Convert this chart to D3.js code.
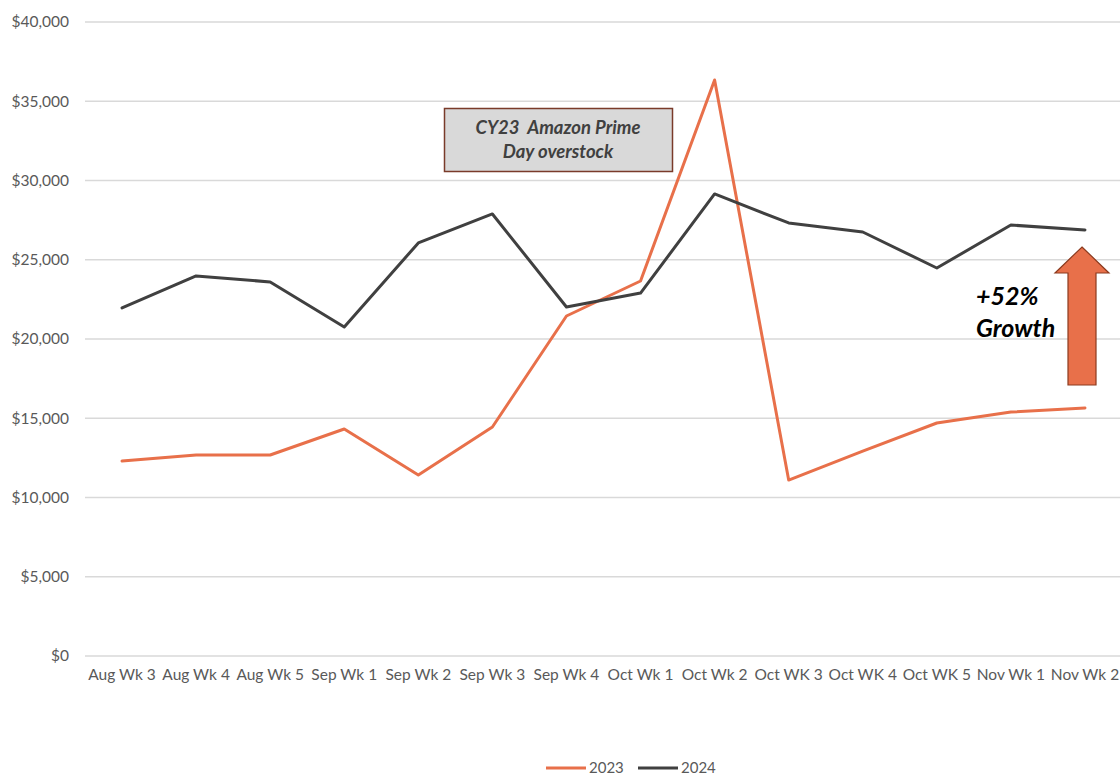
<!DOCTYPE html>
<html><head><meta charset="utf-8">
<script src="https://cdn.jsdelivr.net/npm/d3@7"></script>
<style>body{margin:0;background:#fff}svg{display:block}</style>
</head><body>
<svg id="c" width="1120" height="777"></svg>
<script>
const categories = ["Aug Wk 3","Aug Wk 4","Aug Wk 5","Sep Wk 1","Sep Wk 2","Sep Wk 3","Sep Wk 4","Oct Wk 1","Oct Wk 2","Oct WK 3","Oct WK 4","Oct WK 5","Nov Wk 1","Nov Wk 2"];
const values2023 = [12300,12680,12680,14320,11420,14450,21450,23660,36340,11100,12930,14700,15390,15650];
const values2024 = [21960,23980,23600,20760,26060,27890,22020,22900,29150,27320,26750,24480,27190,26880];
const yTicks = [0,5000,10000,15000,20000,25000,30000,35000,40000];
const seriesNames = ["2023","2024"];
const colors = ["#E8704A","#404040"];

const svg = d3.select("#c");
const font = "Lato, 'Open Sans', sans-serif";
const mLeft = 85, mRight = 1122, mTop = 22, mBottom = 656;
const x = d3.scaleBand().domain(categories).range([mLeft, mRight]);
const y = d3.scaleLinear().domain([0,40000]).range([mBottom, mTop]);

// grid
svg.append("g").selectAll("line").data(yTicks).join("line")
  .attr("x1", mLeft).attr("x2", 1120)
  .attr("y1", d=>y(d)).attr("y2", d=>y(d))
  .attr("stroke", "#d9d9d9").attr("stroke-width", 1.3);

// y axis labels
const yAxis = d3.axisLeft(y).tickValues(yTicks).tickSize(0).tickPadding(16)
  .tickFormat(d => "$" + d3.format(",")(d));
const ga = svg.append("g").attr("transform", `translate(${mLeft},0)`).call(yAxis);
ga.select(".domain").remove();
ga.selectAll("text").attr("font-family", font).attr("font-size", 15.5).attr("fill", "#595959");

// x axis labels
const xAxis = d3.axisBottom(x).tickSize(0).tickPadding(13);
const gx = svg.append("g").attr("transform", `translate(0,${mBottom})`).call(xAxis);
gx.select(".domain").remove();
gx.selectAll("text").attr("font-family", font).attr("font-size", 15.5).attr("fill", "#595959");

// lines
const line = d3.line().x((d,i)=>x(categories[i]) + x.bandwidth()/2).y(d=>y(d));
[values2023, values2024].forEach((vals, k) => {
  svg.append("path").datum(vals).attr("d", line)
    .attr("fill","none").attr("stroke", colors[k]).attr("stroke-width", 3)
    .attr("stroke-linejoin","round").attr("stroke-linecap","round");
});

// annotation box
svg.append("rect").attr("x",444.5).attr("y",108.5).attr("width",228).attr("height",63)
  .attr("fill","#d9d9d9").attr("stroke","#7a3b2a").attr("stroke-width",1.5);
const at = svg.append("text").attr("font-family", font).attr("font-size", 18.5)
  .attr("font-style","italic").attr("font-weight","bold").attr("fill","#404040")
  .attr("text-anchor","middle");
at.append("tspan").attr("x",558).attr("y",134).text("CY23\u00a0 Amazon Prime");
at.append("tspan").attr("x",558).attr("y",158).text("Day overstock");

// arrow
const ax = 1082;
svg.append("path")
  .attr("d", `M${ax},247 L${ax+27},273 L${ax+14},273 L${ax+14},385 L${ax-14},385 L${ax-14},273 L${ax-27},273 Z`)
  .attr("fill","#E8704A").attr("stroke","#8B3A1E").attr("stroke-width",1.2);

const gt = svg.append("text").attr("font-family", font).attr("font-size", 25)
  .attr("font-style","italic").attr("font-weight","bold").attr("fill","#000");
gt.append("tspan").attr("x",976).attr("y",305).text("+52%");
gt.append("tspan").attr("x",976).attr("y",337).text("Growth");

// legend
const lg = svg.append("g");
seriesNames.forEach((n,i) => {
  const lx = 546 + i*92;
  lg.append("line").attr("x1",lx).attr("x2",lx+40).attr("y1",768).attr("y2",768)
    .attr("stroke",colors[i]).attr("stroke-width",3);
  lg.append("text").attr("x",lx+43).attr("y",773).attr("font-family",font).attr("font-size",15)
    .attr("fill","#595959").text(n);
});
</script>
</body></html>
